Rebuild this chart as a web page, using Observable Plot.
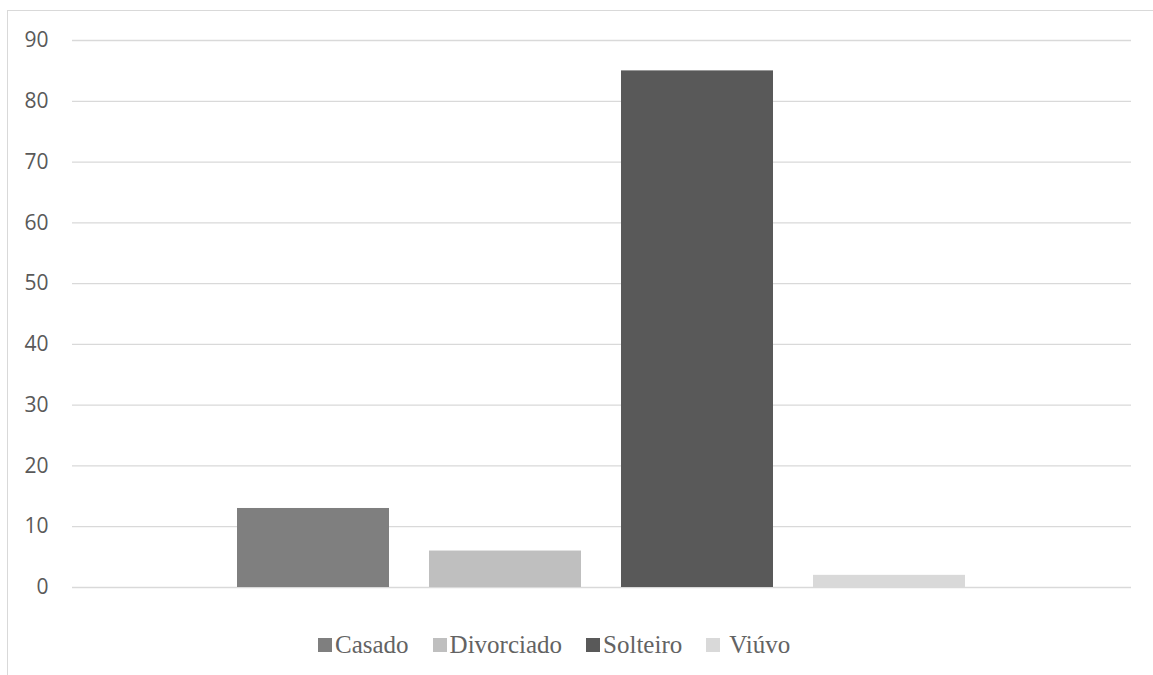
<!DOCTYPE html>
<html>
<head>
<meta charset="utf-8">
<script src="https://cdn.jsdelivr.net/npm/d3@7"></script>
<script src="https://cdn.jsdelivr.net/npm/@observablehq/plot@0.6"></script>
<style>
  html, body { margin: 0; padding: 0; background: #fff; overflow: hidden; width: 1153px; height: 675px; }
  #frame { position: absolute; left: 7px; top: 10px; width: 1200px; height: 700px;
           border-left: 1.5px solid #d9d9d9; border-top: 1.5px solid #d9d9d9; }
  #chart { position: absolute; left: 0; top: 0; }
  #legend { position: absolute; left: 318px; top: 631px; display: flex; align-items: center;
            font-family: "Liberation Serif", serif; font-size: 25px; color: #636363; line-height: 28px; }
  .item { display: flex; align-items: center; margin-right: 24px; }
  .sw { width: 14px; height: 14px; margin-right: 3px; }
</style>
</head>
<body>
<div id="frame"></div>
<div id="chart"></div>
<div id="legend"></div>
<script>
const series = ["Casado", "Divorciado", "Solteiro", "Viúvo"];
const values = [13, 6, 85, 2];
const colors = ["#7f7f7f", "#bfbfbf", "#595959", "#d9d9d9"];
const yTicks = [0, 10, 20, 30, 40, 50, 60, 70, 80, 90];

const data = series.map((s, i) => ({series: s, value: values[i]}));

const chart = Plot.plot({
  width: 1153,
  height: 615,
  marginLeft: 72,
  marginRight: 22,
  marginTop: 40,
  marginBottom: 28,
  style: {fontFamily: "'Open Sans', sans-serif", fontSize: "21px", color: "#595959", background: "transparent"},
  x: {domain: series, range: [217, 986], paddingInner: 0.208, paddingOuter: 0.104, axis: null},
  y: {domain: [0, 90], ticks: yTicks, tickSize: 0, tickPadding: 24, label: null},
  color: {domain: series, range: colors},
  marks: [
    Plot.gridY(yTicks, {stroke: "#d9d9d9", strokeOpacity: 1, strokeWidth: 1.3}),
    Plot.barY(data, {x: "series", y: "value", fill: "series"}),
    Plot.axisY(yTicks, {tickSize: 0, tickPadding: 24, fontSize: 21, label: null})
  ]
});
document.getElementById("chart").appendChild(chart);

const legend = document.getElementById("legend");
series.forEach((s, i) => {
  const item = document.createElement("div");
  item.className = "item";
  const sw = document.createElement("span");
  sw.className = "sw";
  sw.style.background = colors[i];
  const t = document.createElement("span");
  t.textContent = s;
  if (i === series.length - 1) t.style.marginLeft = "6px";
  item.appendChild(sw);
  item.appendChild(t);
  legend.appendChild(item);
});
</script>
</body>
</html>
